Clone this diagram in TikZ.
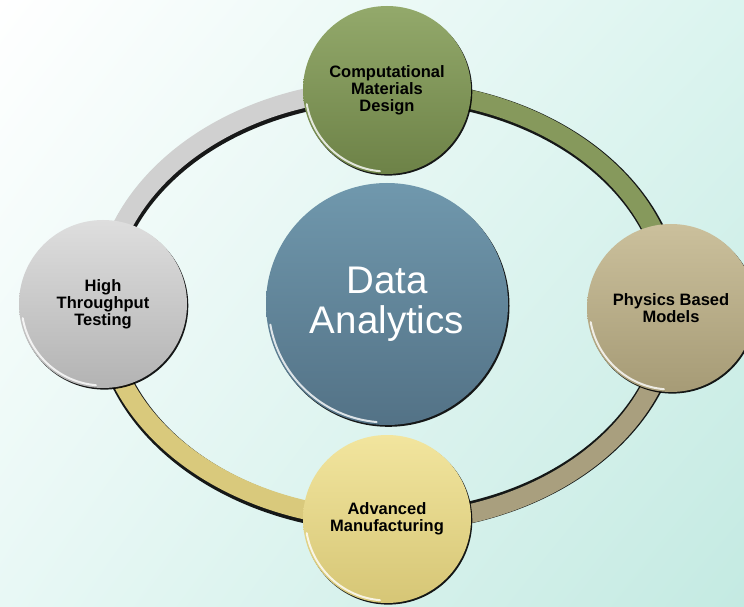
\documentclass[tikz,border=0pt]{standalone}
\usepackage{fontspec}
\setmainfont{Liberation Sans}
\usetikzlibrary{shadows,backgrounds,shadings}
\definecolor{gTop}{HTML}{93A96B}
\definecolor{gBot}{HTML}{6D8247}
\definecolor{tTop}{HTML}{CBC09C}
\definecolor{tBot}{HTML}{A69B76}
\definecolor{yTop}{HTML}{F2E59E}
\definecolor{yBot}{HTML}{D6C676}
\definecolor{sTop}{HTML}{DEDEDE}
\definecolor{sBot}{HTML}{B3B3B3}
\definecolor{bTop}{HTML}{7098AD}
\definecolor{bBot}{HTML}{537286}
\definecolor{rGreen}{HTML}{86995C}
\definecolor{rTan}{HTML}{A99F7E}
\definecolor{rYellow}{HTML}{D9C97C}
\definecolor{rGray}{HTML}{D0D0D0}
\definecolor{bgUR}{HTML}{DBF4EF}
\definecolor{bgLL}{HTML}{E8F8F5}
\definecolor{bgLR}{HTML}{C4EAE2}
\begin{document}
\begin{tikzpicture}[x=1pt,y=1pt,
  hub/.style={circle, inner sep=0pt, minimum size=168pt, align=center,
    font=\bfseries\fontsize{16.5}{17}\selectfont,
    drop shadow={shadow xshift=1.3pt, shadow yshift=-1.6pt, opacity=0.9, fill=black}},
  core/.style={circle, inner sep=0pt, minimum size=242pt, align=center,
    font=\fontsize{38.5}{40}\selectfont, text=white,
    drop shadow={shadow xshift=1.5pt, shadow yshift=-1.8pt, opacity=0.9, fill=black}},
  ringseg/.style={line width=19pt},
  glint/.style={white, line width=2pt, opacity=0.8, line cap=round}]
\useasboundingbox (0,0) rectangle (744,606);
\node[hub, top color=gTop, bottom color=gBot] (cmd) at (387,516) {Computational\\Materials\\Design};
\node[hub, top color=tTop, bottom color=tBot] (pbm) at (671,298) {Physics Based\\Models};
\node[hub, top color=yTop, bottom color=yBot] (am) at (387,87) {Advanced\\Manufacturing};
\node[hub, top color=sTop, bottom color=sBot] (htt) at (103,302) {High\\Throughput\\Testing};
\node[core, top color=bTop, bottom color=bBot] (da) at (387,302) {Data\\Analytics};
\foreach \n in {cmd,pbm,am,htt}
  \draw[glint] ([shift={(190:81.5)}]\n.center) arc[start angle=190, end angle=265, radius=81.5pt];
\draw[glint] ([shift={(190:118.5)}]da.center) arc[start angle=190, end angle=265, radius=118.5pt];
\begin{pgfonlayer}{background}
\shade[upper left=white, upper right=bgUR, lower left=bgLL, lower right=bgLR] (0,0) rectangle (744,606);
\draw[black, line width=22pt, opacity=0.9] ([xshift=1pt,yshift=-1.5pt]cmd.center)
  arc[start angle=90, end angle=450, x radius=284pt, y radius=215pt];
\draw[ringseg, rGreen] (cmd.center) arc[start angle=90, end angle=0, x radius=284pt, y radius=215pt];
\draw[ringseg, rTan] (pbm.center) arc[start angle=0, end angle=-90, x radius=284pt, y radius=215pt];
\draw[ringseg, rYellow] (am.center) arc[start angle=270, end angle=180, x radius=284pt, y radius=215pt];
\draw[ringseg, rGray] (htt.center) arc[start angle=180, end angle=90, x radius=284pt, y radius=215pt];
\end{pgfonlayer}
\end{tikzpicture}
\end{document}
